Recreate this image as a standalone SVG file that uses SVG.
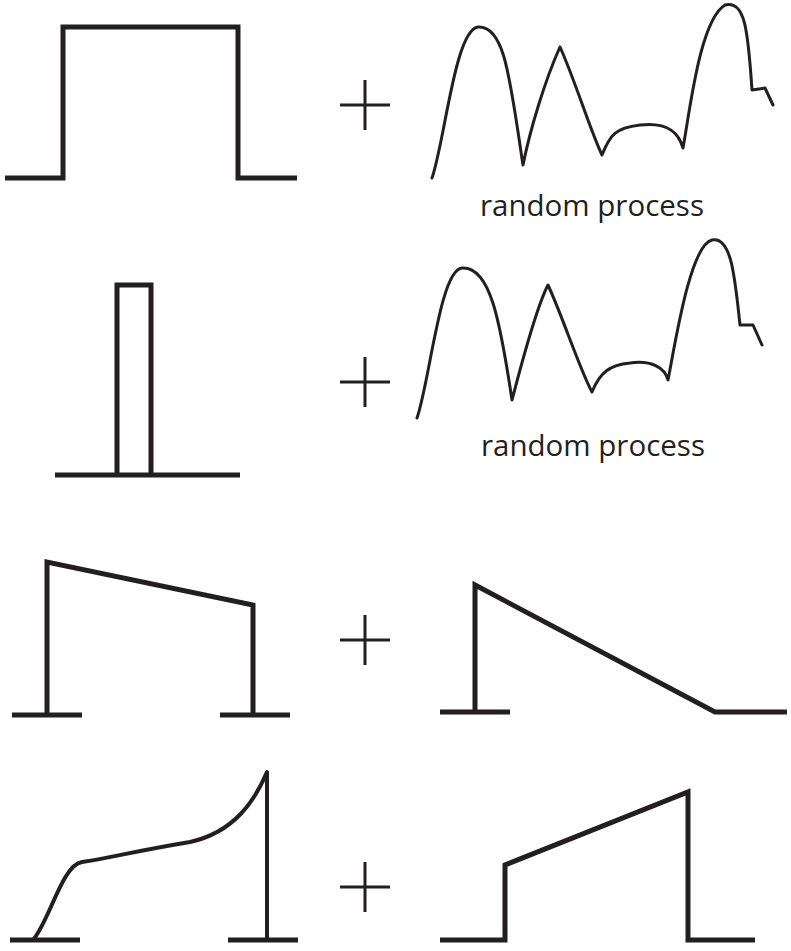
<svg xmlns="http://www.w3.org/2000/svg" width="791" height="951" viewBox="0 0 791 951">
<style>
.t{fill:none;stroke:#231f20;stroke-width:5;stroke-linejoin:miter}
.r{fill:none;stroke:#231f20;stroke-width:3;stroke-linejoin:round;stroke-linecap:round}
.p{fill:none;stroke:#231f20;stroke-width:3}
text{font-family:"Open Sans","Liberation Sans",sans-serif;font-size:29.5px;fill:#231f20;text-anchor:middle}
</style>
<rect width="791" height="951" fill="#fff"/>
<g id="row1">
<path class="t" d="M5 178H63V27H238V178H297"/>
<path class="p" d="M340 105H390M365 80V130"/>
<path class="r" d="M432 178C445 140 455 30 478 27C505 25 510 80 523 165C530 130 545 80 560 47C575 80 590 130 602 155C610 135 615 128 640 125C665 122 678 130 683 148C690 110 700 20 725 5C745 0 748 30 752 90L765 88L773 105"/>
<text x="592" y="216">random process</text>
</g>
<g id="row2">
<path class="t" d="M55 475H240M117 475V285H151V475"/>
<path class="p" d="M340 382H390M365 357V407"/>
<path class="r" d="M417 418C430 380 440 270 462 268C490 266 500 320 512 400C520 370 535 310 548 285C562 315 580 370 592 392C600 372 610 365 630 363C652 360 665 368 668 380C675 345 690 245 712 240C732 236 735 280 740 325L753 325L762 345"/>
<text x="593" y="456">random process</text>
</g>
<g id="row3">
<path class="t" d="M12 715H82M47 715V562L253 605V715M220 715H290"/>
<path class="p" d="M340 640H390M365 615V665"/>
<path class="t" d="M440 712H510M475 712V585L715 712H787"/>
</g>
<g id="row4">
<path class="t" d="M10 940H80M228 940H298"/>
<path class="r" style="stroke-width:4" d="M33 940C50 920 62 865 82 862C110 858 130 852 190 842C235 832 255 800 267 772V940"/>
<path class="p" d="M340 887H390M365 862V912"/>
<path class="t" d="M440 940H505V865L688 792V940H755"/>
</g>
</svg>
